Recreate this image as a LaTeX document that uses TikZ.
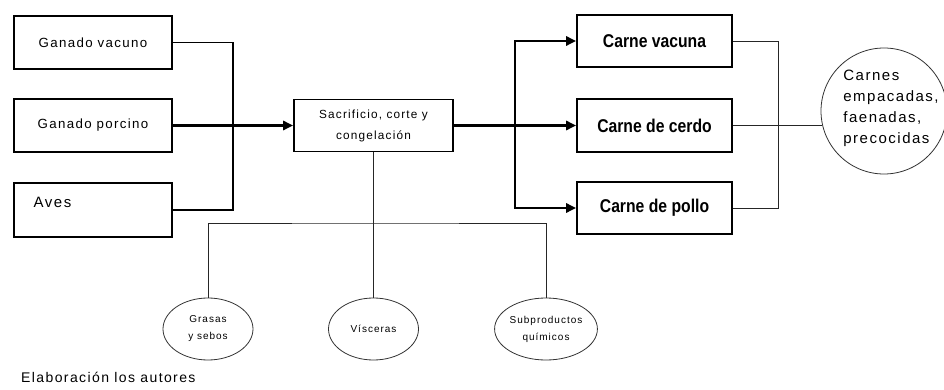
\documentclass[tikz,border=0pt]{standalone}
\usepackage{fontspec}
\setmainfont{Liberation Sans}[LetterSpace=10]
\newfontfamily\headfont{Liberation Sans}[FakeStretch=0.85]
\usetikzlibrary{shapes.geometric,arrows.meta}

\begin{document}
\begin{tikzpicture}[x=1pt,y=-1pt,
  box/.style={draw=black,line width=1.6pt,rectangle,inner sep=0pt,
    minimum width=158pt,minimum height=53pt},
  srcbox/.style={box,font=\fontsize{13.3}{16}\selectfont},
  prodbox/.style={box,minimum width=155pt,font=\headfont\bfseries\fontsize{18.5}{20}\selectfont},
  procbox/.style={box,align=center,font=\fontsize{11.8}{21}\selectfont},
  byprod/.style={draw=black!80,line width=0.8pt,ellipse,inner sep=0pt,
    minimum width=90pt,minimum height=62pt,align=center,
    font=\fontsize{10}{17}\selectfont},
  outcircle/.style={draw=black!80,line width=0.8pt,circle,inner sep=0pt,
    minimum size=126pt},
  outtext/.style={align=left,inner sep=0pt,font=\fontsize{15}{21}\selectfont},
  midline/.style={line width=1.6pt},
  heavy/.style={line width=2.8pt},
  heavyarrow/.style={heavy,-{Triangle[length=10pt,width=9pt]}},
  thinline/.style={line width=0.9pt,draw=black!85}
]
\fill[white] (0,0) rectangle (944,390);
\useasboundingbox (0,0) rectangle (944,390);

% livestock inputs
\node[srcbox] (gv) at (93,42.5) {Ganado vacuno};
\node[srcbox] (gp) at (93,125.5) {Ganado porcino};
\node[box,minimum height=54pt,
  label={[anchor=west,xshift=17pt,yshift=8pt,font=\fontsize{15}{18}\selectfont]west:Aves}]
  (av) at (93,210) {};

% processing step
\node[procbox,minimum width=159pt,minimum height=52pt] (sac) at (373.5,125.5)
  {Sacrificio, corte y\\congelación};

% meat products
\node[prodbox,minimum height=52pt] (cv) at (654.5,41) {Carne vacuna};
\node[prodbox] (cc) at (654.5,125.5) {Carne de cerdo};
\node[prodbox,minimum height=52pt] (cp) at (654.5,208) {Carne de pollo};

% final products
\node[outcircle] (out) at (884,111) {};
\node[outtext] (outlbl) at (891,108.5) {Carnes\\empacadas,\\faenadas,\\precocidas};

% by-products
\node[byprod] (gr) at (208,329) {Grasas\\y sebos};
\node[byprod] (vi) at (373.5,329) {Vísceras};
\node[byprod] (sp) at (546,329) {Subproductos\\químicos};

% junction points
\coordinate (jl) at (233,125.5);
\coordinate (jr) at (515,125.5);
\coordinate (jo) at (778,125.5);
\coordinate (jb) at (373.5,223);

% inputs to processing
\draw[midline] (gv.east) -| (jl) |- (av.east);
\draw[heavyarrow] (gp.east) -- (sac.west);

% processing to products
\draw[heavyarrow] (sac.east) -- (cc.west);
\draw[heavyarrow] (jr) |- (cv.west);
\draw[heavyarrow] (jr) |- (cp.west);

% products to final products
\draw[thinline] (cv.east) -| (jo) |- (cp.east);
\draw[thinline] (cc.east) -- (cc.east -| out.193);

% processing to by-products
\draw[thinline] (sac.south) -- (vi.north);
\draw[thinline] (gr.north) |- (jb) -| (sp.north);

% source note
\node[anchor=west,inner sep=0pt,font=\fontsize{14}{16}\selectfont] (note) at (21,377)
  {Elaboración los autores};
\end{tikzpicture}
\end{document}
